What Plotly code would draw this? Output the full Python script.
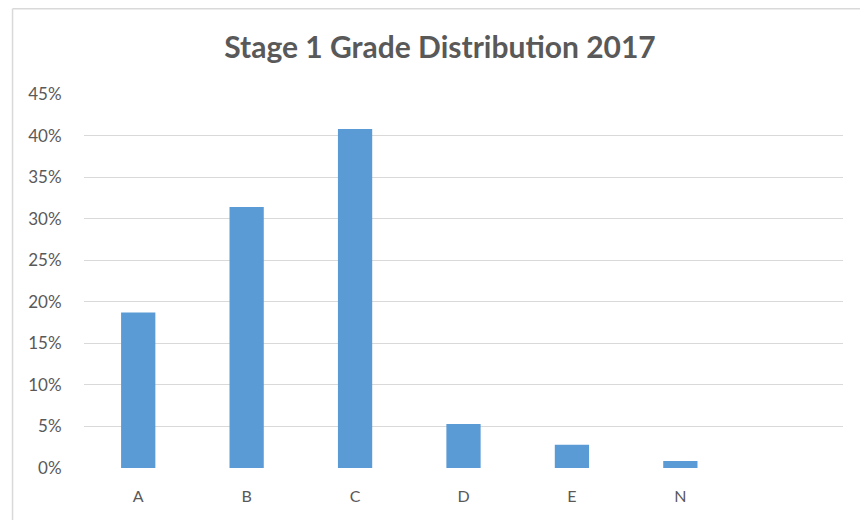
import plotly.graph_objects as go

grades = ["A", "B", "C", "D", "E", "N"]
shares = [0.187, 0.314, 0.408, 0.053, 0.028, 0.0085]
y_ticks = [0, 0.05, 0.10, 0.15, 0.20, 0.25, 0.30, 0.35, 0.40, 0.45]
title_text = "<b>Stage 1 Grade Distribution 2017</b>"

# page body has an 8px margin; work in page pixels and shift
OFF = 8
PW, PH = 868, 520
W, H = PW - OFF, PH - OFF
left_px, right_px, top_px, bottom_px = 83.5, 843, 94, 467.7
ml = left_px - OFF
mt = top_px - OFF
mr = PW - right_px
mb = PH - bottom_px
pw, ph = W - ml - mr, H - mt - mb

def px_x(p):
    return (p - OFF - ml) / pw

def px_y(p):
    return (H - mb - (p - OFF)) / ph

fig = go.Figure(go.Bar(
    x=grades, y=shares,
    marker=dict(color="#5b9bd5", line=dict(width=0)),
    width=0.316,
))

font_fam = "Lato, 'Open Sans', sans-serif"
fig.update_layout(
    width=W, height=H,
    margin=dict(l=ml, r=mr, t=mt, b=mb, autoexpand=False),
    paper_bgcolor="white", plot_bgcolor="white",
    showlegend=False,
    title=dict(text=title_text, x=(440 - OFF) / W, xanchor="center",
               y=1 - (47 - OFF) / H, yanchor="middle",
               font=dict(family=font_fam, size=30, color="#595959")),
    xaxis=dict(range=[-0.5, 6.5], showgrid=False, showline=False, zeroline=False,
               ticks="outside", ticklen=14, tickcolor="rgba(0,0,0,0)",
               tickfont=dict(family=font_fam, size=16, color="#595959")),
    yaxis=dict(range=[0, 0.45], tickvals=y_ticks, tickformat=".0%",
               showgrid=True, gridcolor="#d9d9d9", gridwidth=1, zeroline=False, showline=False,
               ticks="outside", ticklen=18, tickcolor="rgba(0,0,0,0)",
               tickfont=dict(family=font_fam, size=17, color="#595959")),
    shapes=[
        dict(type="line", xref="paper", yref="paper", x0=px_x(12), x1=px_x(12),
             y0=px_y(8.8), y1=px_y(PH + 5), line=dict(color="#d9d9d9", width=1.5)),
        dict(type="line", xref="paper", yref="paper", x0=px_x(12), x1=px_x(PW + 5),
             y0=px_y(8.8), y1=px_y(8.8), line=dict(color="#d9d9d9", width=1.5)),
    ],
)

fig.write_html("out.html")
